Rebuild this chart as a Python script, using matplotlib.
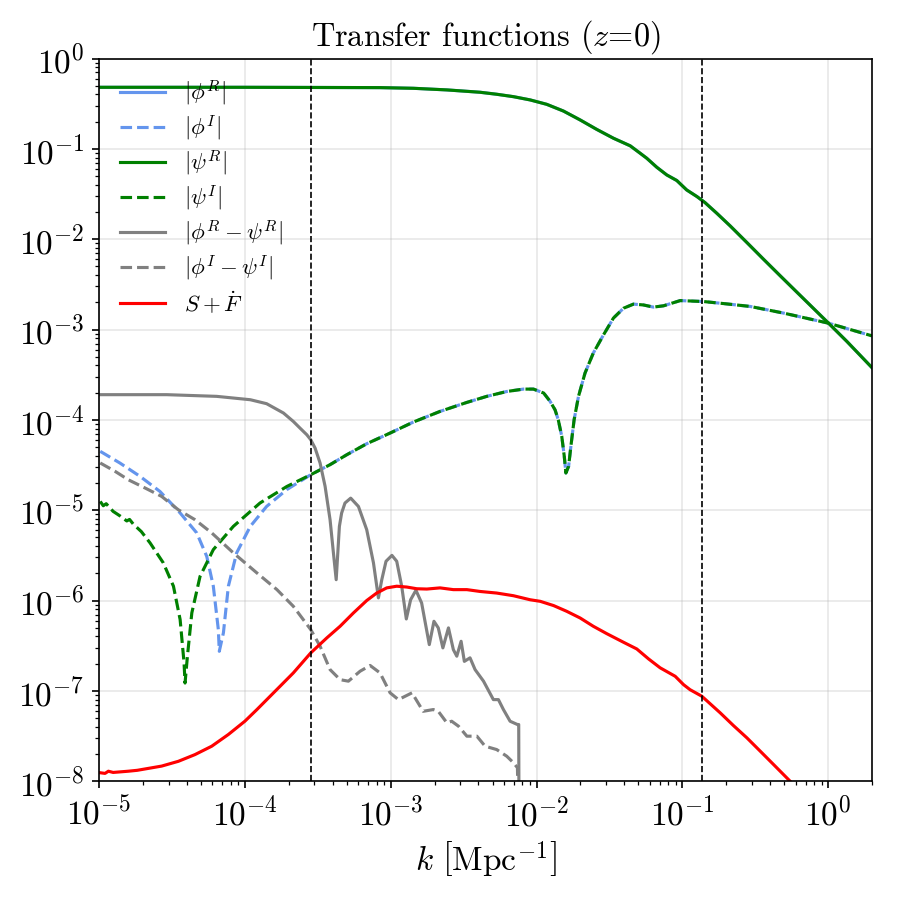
import numpy as np
import matplotlib
matplotlib.use("Agg")
import matplotlib.pyplot as plt

plt.rcParams['font.family'] = 'serif'
plt.rcParams['font.serif'] = ['cmr10']
plt.rcParams['mathtext.fontset'] = 'cm'
plt.rcParams['axes.formatter.use_mathtext'] = True
plt.rcParams['axes.unicode_minus'] = False

# |psi^R| (|phi^R| lies on top of it)
k_R = [1e-5, 1e-4, 3e-4, 8.46e-4, 1.43e-3, 2.43e-3, 4.10e-3, 5.33e-3, 6.95e-3, 9.04e-3,
       1.175e-2, 1.53e-2, 1.99e-2, 2.59e-2, 3.37e-2, 4.39e-2, 5.14e-2, 5.70e-2, 6.68e-2,
       7.82e-2, 9.16e-2, 0.107, 0.126, 0.143, 0.172, 0.213, 0.277, 0.360, 0.469, 0.610,
       0.793, 1.005, 1.343, 2.0]
psiR = [0.48, 0.48, 0.478, 0.476, 0.468, 0.449, 0.423, 0.402, 0.378, 0.348,
        0.311, 0.262, 0.209, 0.164, 0.131, 0.108, 0.0893, 0.0787, 0.0625,
        0.0514, 0.0446, 0.0351, 0.0296, 0.0254, 0.0194, 0.0140, 9.18e-3, 6.0e-3, 3.93e-3, 2.59e-3,
        1.71e-3, 1.175e-3, 7.38e-4, 3.77e-4]

# |phi^I| and |psi^I| at low k (they differ there)
k_phiI_lo = [1.02e-5, 1.39e-5, 1.91e-5, 2.62e-5, 3.60e-5, 4.68e-5, 5.48e-5, 6.08e-5, 6.58e-5,
             6.68e-5, 7.13e-5, 7.71e-5, 8.79e-5, 1.09e-4, 1.41e-4, 1.94e-4]
phiI_lo = [4.48e-5, 3.33e-5, 2.37e-5, 1.61e-5, 9.31e-6, 5.60e-6, 3.08e-6, 1.44e-6, 4.77e-7,
           2.74e-7, 4.39e-7, 1.44e-6, 3.37e-6, 6.62e-6, 1.10e-5, 1.69e-5]
k_psiI_lo = [1.02e-5, 1.07e-5, 1.12e-5, 1.25e-5, 1.40e-5, 1.55e-5, 1.62e-5, 1.72e-5, 1.95e-5,
             2.24e-5, 2.76e-5, 3.24e-5, 3.60e-5, 3.83e-5, 3.89e-5, 4.04e-5, 4.33e-5, 4.93e-5,
             6.08e-5, 8.34e-5, 1.27e-4, 1.94e-4]
psiI_lo = [1.25e-5, 1.12e-5, 1.18e-5, 9.7e-6, 8.6e-6, 7.6e-6, 7.9e-6, 7.0e-6, 5.8e-6,
           4.34e-6, 2.61e-6, 1.44e-6, 6.15e-7, 2.04e-7, 1.22e-7, 2.42e-7, 7.30e-7, 1.85e-6,
           3.66e-6, 6.62e-6, 1.20e-5, 1.83e-5]

# |phi^I| = |psi^I| from k ~ 3e-4 upward
k_I_hi = [2.83e-4, 3.84e-4, 5.0e-4, 6.85e-4, 9.91e-4, 1.43e-3, 2.18e-3, 3.33e-3, 4.56e-3,
          6.25e-3, 8.13e-3, 9.53e-3, 1.12e-2, 1.24e-2, 1.34e-2, 1.41e-2, 1.49e-2, 1.55e-2,
          1.59e-2, 1.66e-2, 1.72e-2, 1.81e-2, 1.94e-2, 2.15e-2, 2.45e-2, 2.88e-2, 3.37e-2,
          3.95e-2, 4.62e-2, 5.41e-2, 6.33e-2, 7.43e-2, 9.66e-2, 0.140, 0.202, 0.292, 0.494,
          1.005, 1.995]
I_hi = [2.47e-5, 3.19e-5, 4.11e-5, 5.44e-5, 7.14e-5, 9.45e-5, 1.24e-4, 1.56e-4, 1.82e-4,
        2.06e-4, 2.19e-4, 2.19e-4, 1.98e-4, 1.60e-4, 1.29e-4, 1.00e-4, 6.56e-5, 3.94e-5,
        2.58e-5, 3.06e-5, 5.08e-5, 1.00e-4, 1.82e-4, 3.29e-4, 5.48e-4, 8.73e-4, 1.34e-3,
        1.72e-3, 1.91e-3, 1.87e-3, 1.77e-3, 1.83e-3, 2.09e-3, 2.04e-3, 1.92e-3, 1.80e-3, 1.52e-3,
        1.175e-3, 8.51e-4]

# |phi^R - psi^R|
k_dR = [1.02e-5, 2.91e-5, 6.41e-5, 1.09e-4, 1.41e-4, 1.84e-4, 2.15e-4, 2.39e-4, 2.66e-4,
        2.83e-4, 3.03e-4, 3.28e-4, 3.55e-4, 3.84e-4, 4.05e-4, 4.23e-4, 4.45e-4, 4.61e-4,
        4.86e-4, 5.32e-4, 6.01e-4, 6.85e-4, 7.62e-4, 8.24e-4, 8.69e-4, 9.29e-4, 1.02e-3,
        1.10e-3, 1.19e-3, 1.28e-3, 1.37e-3, 1.49e-3, 1.63e-3, 1.84e-3, 1.98e-3, 2.12e-3,
        2.28e-3, 2.49e-3, 2.69e-3, 2.84e-3, 3.04e-3, 3.20e-3, 3.50e-3, 3.79e-3, 4.33e-3,
        5.06e-3, 5.48e-3, 5.93e-3, 6.59e-3, 7.40e-3, 7.55e-3, 7.60e-3]
dR = [1.90e-4, 1.90e-4, 1.82e-4, 1.67e-4, 1.51e-4, 1.19e-4, 9.6e-5, 8.1e-5, 6.84e-5,
      6.03e-5, 4.88e-5, 3.33e-5, 1.84e-5, 7.85e-6, 3.36e-6, 1.70e-6, 6.62e-6, 9.3e-6,
      1.20e-5, 1.36e-5, 1.10e-5, 6.08e-6, 2.61e-6, 1.07e-6, 1.70e-6, 2.72e-6, 3.16e-6,
      2.72e-6, 1.44e-6, 6.25e-7, 1.02e-6, 1.30e-6, 9.4e-7, 3.25e-7, 5.89e-7, 4.98e-7,
      2.99e-7, 4.98e-7, 2.86e-7, 2.42e-7, 3.54e-7, 2.12e-7, 2.32e-7, 1.72e-7, 1.28e-7,
      8.0e-8, 8.0e-8, 6.21e-8, 4.61e-8, 4.24e-8, 4.24e-8, 1e-9]

# |phi^I - psi^I|
k_dI = [1.02e-5, 1.29e-5, 1.59e-5, 2.07e-5, 2.69e-5, 3.50e-5, 4.55e-5, 5.93e-5, 8.34e-5,
        1.21e-4, 1.66e-4, 2.15e-4, 2.83e-4, 3.28e-4, 3.84e-4, 4.50e-4, 5.13e-4, 6.17e-4,
        7.23e-4, 8.45e-4, 9.91e-4, 1.13e-3, 1.40e-3, 1.67e-3, 1.96e-3, 2.12e-3, 2.43e-3,
        2.62e-3, 2.92e-3, 3.33e-3, 3.90e-3, 4.44e-3, 5.33e-3, 6.25e-3, 6.95e-3, 7.40e-3, 7.60e-3]
dI = [3.33e-5, 2.69e-5, 2.17e-5, 1.76e-5, 1.42e-5, 1.01e-5, 7.85e-6, 5.60e-6, 3.37e-6,
      2.02e-6, 1.32e-6, 8.63e-7, 4.77e-7, 3.12e-7, 1.72e-7, 1.33e-7, 1.28e-7, 1.65e-7,
      1.91e-7, 1.58e-7, 9.51e-8, 8.0e-8, 9.51e-8, 5.94e-8, 6.21e-8, 5.94e-8, 4.42e-8,
      4.61e-8, 4.06e-8, 3.15e-8, 3.15e-8, 2.44e-8, 2.24e-8, 1.89e-8, 1.60e-8, 1.41e-8, 1e-9]

# S + F-dot
k_S = [1.02e-5, 1.10e-5, 1.16e-5, 1.25e-5, 1.59e-5, 1.83e-5, 2.69e-5, 3.50e-5, 4.55e-5,
       5.93e-5, 7.71e-5, 1.00e-4, 1.21e-4, 1.74e-4, 2.15e-4, 2.83e-4, 3.65e-4, 4.50e-4,
       5.55e-4, 6.85e-4, 8.02e-4, 9.39e-4, 1.10e-3, 1.29e-3, 1.51e-3, 1.77e-3, 2.18e-3,
       2.69e-3, 3.33e-3, 4.10e-3, 5.33e-3, 6.95e-3, 9.04e-3, 1.06e-2, 1.31e-2, 1.61e-2,
       1.99e-2, 2.45e-2, 3.03e-2, 3.95e-2, 4.87e-2, 5.86e-2, 7.04e-2, 8.93e-2, 0.102,
       0.113, 0.136, 0.182, 0.224, 0.277, 0.342, 0.422, 0.548, 0.65]
S = [1.24e-8, 1.22e-8, 1.29e-8, 1.25e-8, 1.29e-8, 1.32e-8, 1.47e-8, 1.66e-8, 1.97e-8,
     2.44e-8, 3.29e-8, 4.61e-8, 6.21e-8, 1.12e-7, 1.58e-7, 2.63e-7, 3.86e-7, 5.19e-7,
     7.28e-7, 1.00e-6, 1.21e-6, 1.38e-6, 1.44e-6, 1.41e-6, 1.35e-6, 1.34e-6, 1.38e-6,
     1.32e-6, 1.32e-6, 1.26e-6, 1.21e-6, 1.13e-6, 1.02e-6, 9.8e-7, 8.79e-7, 7.60e-7,
     6.41e-7, 5.19e-7, 4.30e-7, 3.45e-7, 2.91e-7, 2.26e-7, 1.80e-7, 1.45e-7, 1.17e-7,
     1.03e-7, 8.72e-8, 5.70e-8, 4.13e-8, 3.02e-8, 2.15e-8, 1.53e-8, 1.0e-8, 7.5e-9]

# scales marked by the vertical dashed lines
k_marks = [2.84e-4, 0.137]

phiI = np.concatenate([phiI_lo, I_hi])
psiI = np.concatenate([psiI_lo, I_hi])
k_phiI = np.concatenate([k_phiI_lo, k_I_hi])
k_psiI = np.concatenate([k_psiI_lo, k_I_hi])

fig = plt.figure(figsize=(6, 6), dpi=150)
ax = fig.add_axes([0.11, 0.132, 0.859, 0.803])

ax.loglog(k_R, psiR, color='cornflowerblue', lw=1.5, label=r'$|\phi^R|$')
ax.loglog(k_phiI, phiI, color='cornflowerblue', lw=1.5, ls='--', label=r'$|\phi^I|$')
ax.loglog(k_R, psiR, color='green', lw=1.5, label=r'$|\psi^R|$')
ax.loglog(k_psiI, psiI, color='green', lw=1.5, ls='--', label=r'$|\psi^I|$')
ax.loglog(k_dR, dR, color='gray', lw=1.5, label=r'$|\phi^R-\psi^R|$')
ax.loglog(k_dI, dI, color='gray', lw=1.5, ls='--', label=r'$|\phi^I-\psi^I|$')
ax.loglog(k_S, S, color='red', lw=1.5, label=r'$S+\dot{F}$')

for km in k_marks:
    ax.axvline(km, color='black', ls='--', lw=0.8)

ax.set_xlim(1e-5, 2)
ax.set_ylim(1e-8, 1)
ax.grid(True, which='major', alpha=0.3)
ax.tick_params(labelsize=16)
ax.set_xlabel(r'$k\ \left[\mathrm{Mpc}^{-1}\right]$', fontsize=16)
ax.set_title(r'Transfer functions ($z$=0)', fontsize=15.5)
ax.legend(loc='upper left', frameon=False, fontsize=11, labelspacing=0.25)

fig.savefig('out.png', dpi=150)
